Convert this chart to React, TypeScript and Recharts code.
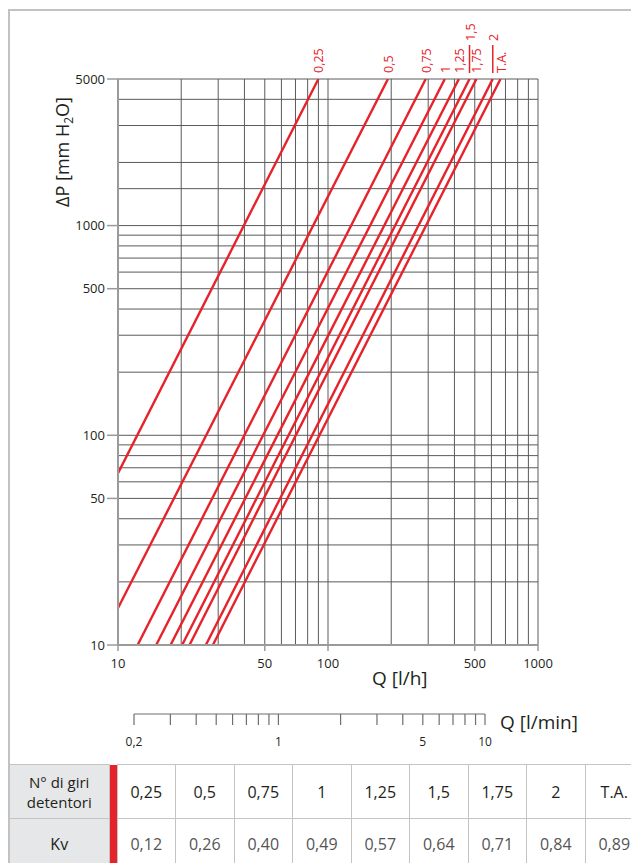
import { LineChart, Line, XAxis, YAxis, ReferenceLine } from 'recharts';

// giri del detentore e relativo Kv (tabella sotto il grafico)
const turns = ['0,25', '0,5', '0,75', '1', '1,25', '1,5', '1,75', '2', 'T.A.'];
const kvValues = ['0,12', '0,26', '0,40', '0,49', '0,57', '0,64', '0,71', '0,84', '0,89'];

// estremi di ogni retta: Q [l/h], ΔP [mm H2O]
const qStart = [10, 10, 12.4, 15.2, 17.8, 20.2, 21.9, 26.2, 28.3];
const dpStart = [66, 15, 10, 10, 10, 10, 10, 10, 10];
const qEnd = [90, 193, 292, 360, 420, 472, 509, 609, 663];
const dpEnd = [5000, 5000, 5000, 5000, 5000, 5000, 5000, 5000, 5000];

const xTicks = [10, 50, 100, 500, 1000];
const yTicks = [10, 50, 100, 500, 1000, 5000];
const xGrid = [10, 20, 30, 40, 50, 60, 70, 80, 90, 100, 200, 300, 400, 500, 600, 700, 800, 900, 1000];
const yGrid = [10, 20, 30, 40, 50, 60, 70, 80, 90, 100, 200, 300, 400, 500, 600, 700, 800, 900, 1000, 1500, 2000, 3000, 4000, 5000];

// scala secondaria Q [l/min]
const minTicks = [0.2, 0.3, 0.4, 0.5, 0.6, 0.7, 0.8, 0.9, 1, 2, 3, 4, 5, 6, 7, 8, 9, 10];
const minLabels = [0.2, 1, 5, 10];

const RED = '#e6232b';
const GRID = '#5a5a5a';
const AXIS = '#9a9a9a';
const TXT = '#231f20';
const FONT = '"Open Sans", sans-serif';

const topLabel = (name: string) => (props: any) => {
  const { x, y, index } = props;
  if (index !== 1 || x == null) return null;
  // 1,5 e 2 stanno più in alto, con un trattino di richiamo
  const raised = name === '1,5' || name === '2';
  const start = raised ? y - 38 : y - 6;
  return (
    <g>
      {raised && <line x1={x} y1={y - 6} x2={x} y2={y - 34} stroke={RED} strokeWidth={1.5} />}
      <text
        transform={`translate(${x + 5},${start}) rotate(-90)`}
        fill={RED}
        fontSize={12.5}
        fontFamily={FONT}
      >
        {name}
      </text>
    </g>
  );
};

const MinTick = (props: any) => {
  const { x, y, payload } = props;
  const v = payload.value;
  if (!minLabels.some((m) => Math.abs(m - v) < 1e-6)) return null;
  return (
    <text x={x} y={y} dy="0.71em" textAnchor="middle" fontSize={12} fill={TXT} fontFamily={FONT}>
      {String(v).replace('.', ',')}
    </text>
  );
};

const cell: React.CSSProperties = {
  border: '1px solid #c4c4c4',
  textAlign: 'center',
  verticalAlign: 'middle',
  padding: 0,
};

export default function App() {
  const minData = minTicks.map((q) => ({ q, v: 0 }));

  return (
    <div style={{ position: 'relative', width: 631, height: 863, overflow: 'hidden', fontFamily: FONT, background: '#fff' }}>
      <style>{'body{margin:0;overflow:hidden}'}</style>

      {/* cornice */}
      <div
        style={{
          position: 'absolute',
          left: 8,
          top: 9,
          width: 700,
          height: 755,
          borderTop: '2px solid #c2c2c2',
          borderLeft: '2px solid #c2c2c2',
          boxSizing: 'border-box',
        }}
      />

      <div style={{ position: 'absolute', left: 0, top: 0 }}>
        <LineChart width={631} height={700} margin={{ top: 79, right: 93, bottom: 25, left: 58 }}>
          <XAxis
            dataKey="q"
            type="number"
            scale="log"
            domain={[10, 1000]}
            allowDataOverflow
            ticks={xTicks}
            height={30}
            tickSize={6}
            tickMargin={8}
            axisLine={{ stroke: AXIS, strokeWidth: 2 }}
            tickLine={{ stroke: AXIS, strokeWidth: 1.5 }}
            tick={{ fontSize: 13, fill: TXT, fontFamily: FONT }}
            tickFormatter={(v) => String(v)}
          />
          <YAxis
            type="number"
            scale="log"
            domain={[10, 5000]}
            allowDataOverflow
            ticks={yTicks}
            width={60}
            tickSize={11}
            tickMargin={2}
            axisLine={{ stroke: AXIS, strokeWidth: 2 }}
            tickLine={{ stroke: AXIS, strokeWidth: 1.5 }}
            tick={{ fontSize: 13, fill: TXT, fontFamily: FONT }}
            tickFormatter={(v) => String(v)}
          />
          {xGrid.map((v) => (
            <ReferenceLine key={'x' + v} x={v} stroke={GRID} strokeWidth={1} />
          ))}
          {yGrid.map((v) => (
            <ReferenceLine key={'y' + v} y={v} stroke={GRID} strokeWidth={1} />
          ))}
          {turns.map((name, i) => (
            <Line
              key={name}
              data={[
                { q: qStart[i], dp: dpStart[i] },
                { q: qEnd[i], dp: dpEnd[i] },
              ]}
              dataKey="dp"
              stroke={RED}
              strokeWidth={2.4}
              dot={false}
              isAnimationActive={false}
              label={topLabel(name)}
            />
          ))}
        </LineChart>
      </div>

      {/* asse Q [l/min] */}
      <div style={{ position: 'absolute', left: 0, top: 690 }}>
        <LineChart width={631} height={70} data={minData} margin={{ top: 0, right: 146, bottom: 0, left: 134 }}>
          <XAxis
            dataKey="q"
            type="number"
            scale="log"
            domain={[0.2, 10]}
            allowDataOverflow
            ticks={minTicks}
            interval={0}
            height={46}
            tickSize={11}
            tickMargin={12}
            axisLine={{ stroke: '#6e6e6e', strokeWidth: 1.2 }}
            tickLine={{ stroke: '#6e6e6e', strokeWidth: 1.2 }}
            tick={<MinTick />}
          />
          <YAxis hide domain={[0, 1]} />
        </LineChart>
      </div>

      {/* titoli degli assi */}
      <svg width={631} height={863} style={{ position: 'absolute', left: 0, top: 0, pointerEvents: 'none' }}>
        <text transform="translate(69,152) rotate(-90)" textAnchor="middle" fontSize={18} fill={TXT} fontFamily={FONT}>
          ΔP [mm H
          <tspan dy={4} fontSize={12}>2</tspan>
          <tspan dy={-4}>O]</tspan>
        </text>
        <text x={372} y={685} fontSize={19} fill={TXT} fontFamily={FONT}>
          Q [l/h]
        </text>
        <text x={500} y={729} fontSize={19} fill={TXT} fontFamily={FONT}>
          Q [l/min]
        </text>
      </svg>

      {/* tabella giri / Kv */}
      <table
        style={{
          position: 'absolute',
          left: 8,
          top: 764,
          width: 635,
          borderCollapse: 'collapse',
          tableLayout: 'fixed',
          fontSize: 16,
          color: TXT,
        }}
      >
        <colgroup>
          <col style={{ width: 100 }} />
          <col style={{ width: 8 }} />
          {turns.map((t) => (
            <col key={t} style={{ width: 58.5 }} />
          ))}
        </colgroup>
        <tbody>
          <tr style={{ height: 54 }}>
            <td style={{ ...cell, background: '#e6e7e8', lineHeight: '20px', fontSize: 15, borderLeft: '2px solid #c2c2c2' }}>
              N° di giri
              <br />
              detentori
            </td>
            <td rowSpan={2} style={{ ...cell, background: RED, border: 'none' }} />
            {turns.map((t) => (
              <td key={t} style={{ ...cell, fontWeight: 500 }}>
                {t}
              </td>
            ))}
          </tr>
          <tr style={{ height: 50 }}>
            <td style={{ ...cell, background: '#e6e7e8', borderLeft: '2px solid #c2c2c2' }}>Kv</td>
            {kvValues.map((k, i) => (
              <td key={i} style={{ ...cell, color: '#555' }}>
                {k}
              </td>
            ))}
          </tr>
        </tbody>
      </table>
    </div>
  );
}
